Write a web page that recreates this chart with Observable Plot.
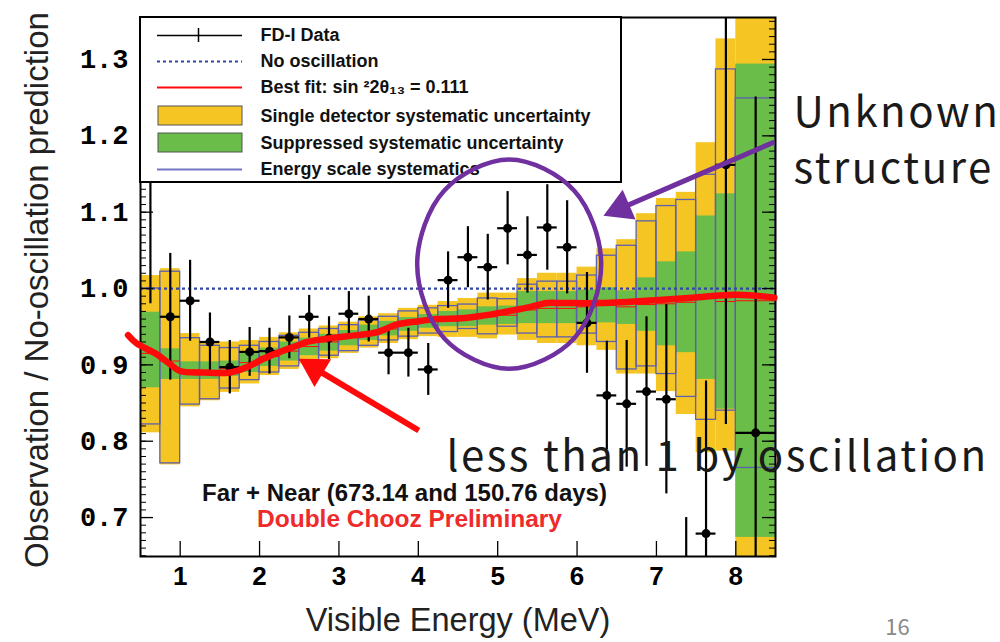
<!DOCTYPE html>
<html><head><meta charset="utf-8">
<script src="https://cdn.jsdelivr.net/npm/d3@7"></script>
<script src="https://cdn.jsdelivr.net/npm/@observablehq/plot@0.6"></script>
<style>
html,body{margin:0;padding:0;background:#fff;}
#chart{width:1000px;height:642px;overflow:hidden;}
</style></head><body><div id="chart"></div>
<script>
// ---------- data ----------
const binEdges = [0.5,0.75,1,1.25,1.5,1.75,2,2.25,2.5,2.75,3,3.25,3.5,3.75,4,4.25,4.5,4.75,5,5.25,5.5,5.75,6,6.25,6.5,6.75,7,7.25,7.5,7.75,8,8.5];
const obsRatio = [1.25,0.963,0.984,0.930,0.897,0.917,0.918,0.936,0.963,0.935,0.967,0.960,0.916,0.916,0.894,1.011,1.041,1.028,1.079,1.044,1.080,1.054,0.955,0.860,0.849,0.865,0.855,0.59,0.679,1.162,0.811];
const obsError = [0.27,0.083,0.053,0.038,0.035,0.032,0.030,0.028,0.028,0.028,0.029,0.030,0.029,0.032,0.034,0.037,0.040,0.043,0.048,0.050,0.056,0.061,0.066,0.071,0.083,0.098,0.124,0.11,0.20,0.34,0.44];
const yellowLow  = [0.811,0.769,0.845,0.853,0.864,0.875,0.886,0.894,0.901,0.908,0.915,0.922,0.928,0.933,0.937,0.936,0.936,0.934,0.939,0.932,0.928,0.928,0.925,0.919,0.888,0.888,0.865,0.835,0.785,0.787,0.40];
const yellowHigh = [1.017,1.026,0.941,0.930,0.930,0.932,0.936,0.942,0.947,0.951,0.956,0.963,0.967,0.974,0.978,0.983,0.987,0.994,0.994,1.013,1.020,1.020,1.028,1.052,1.064,1.098,1.118,1.126,1.191,1.327,1.60];
const greenLow   = [0.870,0.881,0.881,0.881,0.885,0.890,0.898,0.905,0.912,0.918,0.925,0.932,0.938,0.944,0.948,0.950,0.950,0.952,0.953,0.954,0.954,0.954,0.955,0.955,0.953,0.944,0.925,0.916,0.881,0.842,0.674];
const greenHigh  = [0.969,0.921,0.904,0.904,0.905,0.915,0.922,0.930,0.935,0.940,0.945,0.952,0.957,0.962,0.966,0.970,0.972,0.976,0.977,0.996,0.996,0.996,0.998,1.001,0.997,1.014,1.035,1.048,1.095,1.124,1.294];
const blueLow    = [0.822,0.771,0.848,0.855,0.869,0.880,0.890,0.898,0.905,0.912,0.918,0.925,0.932,0.937,0.941,0.943,0.947,0.940,0.950,0.941,0.936,0.936,0.941,0.930,0.894,0.898,0.888,0.858,0.828,0.840,0.765];
const blueHigh   = [1.000,1.022,0.935,0.925,0.922,0.925,0.930,0.938,0.942,0.947,0.952,0.958,0.963,0.970,0.974,0.977,0.979,0.987,0.986,1.005,1.009,1.009,1.017,1.043,1.056,1.088,1.108,1.116,1.149,1.287,1.249];
const bestFit    = [0.915,0.905,0.893,0.892,0.895,0.903,0.911,0.918,0.924,0.930,0.936,0.942,0.947,0.953,0.957,0.959,0.961,0.963,0.965,0.972,0.974,0.974,0.976,0.978,0.976,0.979,0.980,0.982,0.988,0.983,0.984];

// hand-drawn annotation curve (thick red) on the slide
const redCurveX = [0.343,0.452,0.704,0.872,0.997,1.292,1.627,1.838,2.048,2.257,2.467,2.602,2.895,3.232,3.484,3.736,3.987,4.239,4.533,4.785,5.121,5.373,5.625,5.792,6.296,7.030,7.452,8.0,8.486];
const redCurveY = [0.939,0.928,0.914,0.901,0.892,0.890,0.890,0.897,0.908,0.917,0.925,0.930,0.935,0.939,0.943,0.953,0.957,0.960,0.961,0.964,0.970,0.975,0.981,0.981,0.981,0.985,0.988,0.992,0.988];
// annotation ellipse outline points
const ellipseX = [6.304,5.965,5.145,4.325,3.986,4.325,5.145,5.965];
const ellipseY = [1.032,1.128,1.169,1.128,1.032,0.935,0.895,0.935];
// annotation arrows: tail -> head
const arrowRed = {x1:4.006, y1:0.814, x2:2.696, y2:0.8954};
const arrowPurple = {x1:8.486, y1:1.192, x2:6.548, y2:1.105};

const xTickValues = [1,2,3,4,5,6,7,8];
const yTickValues = [0.7,0.8,0.9,1.0,1.1,1.2,1.3];
const legendLabels = ["FD-I Data","No oscillation","Best fit: sin \u00b22\u03b8\u2081\u2083 = 0.111","Single detector systematic uncertainty","Suppressed systematic uncertainty","Energy scale systematics"];
const annotationTexts = ["Unknown","structure","less than 1 by oscillation"];

// ---------- layout ----------
const X0=0.5, X1=8.5, Y0=0.649, Y1=1.355;
const mL=140, mR=225, mT=17, mB=86, W=1000, H=642;
const fW = W-mL-mR, fH = H-mT-mB;
const px2x = px => X0 + (px-mL)*(X1-X0)/fW;
const px2y = py => Y1 - (py-mT)*(Y1-Y0)/fH;

const YELLOW="#f5c524", GREEN="#69bd48", BOX="#5d5fb0", DOT="#3445a8", RED="#ff0a0a", PURPLE="#7030a0";
const ANNOT_FONT = "Noto Sans CJK JP, Noto Sans, sans-serif";

const bins = obsRatio.map((v,i)=>({
  x1: binEdges[i], x2: binEdges[i+1], xc: (binEdges[i]+binEdges[i+1])/2,
  v, e: obsError[i], yl: yellowLow[i], yh: yellowHigh[i], gl: greenLow[i], gh: greenHigh[i],
  bl: blueLow[i], bh: blueHigh[i], fit: bestFit[i]
}));
const redCurve = redCurveX.map((x,i)=>({x, y: redCurveY[i]}));
const ellipse = ellipseX.map((x,i)=>({x, y: ellipseY[i]}));
const yMinor = d3.range(65,136).map(d=>d/100);

const legendRowPx = [35,61,87,116,143,169];
const legendRows = legendLabels.map((t,i)=>({t, py: legendRowPx[i]}));

const plot = Plot.plot({
  width: W, height: H,
  marginLeft: mL, marginRight: mR, marginTop: mT, marginBottom: mB,
  x: {domain: [X0, X1]},
  y: {domain: [Y0, Y1]},
  style: {fontFamily: "Liberation Sans, Arial, sans-serif", background: "white", overflow: "visible"},
  marks: [
    // systematic bands
    Plot.rect(bins, {x1:"x1", x2:"x2", y1:"yl", y2:"yh", fill: YELLOW, clip: true}),
    Plot.rect(bins, {x1:"x1", x2:"x2", y1:"gl", y2:"gh", fill: GREEN, clip: true}),
    Plot.rect(bins, {x1:"x1", x2:"x2", y1:"bl", y2:"bh", fill: "none", stroke: BOX, strokeWidth: 1.3, clip: true}),
    Plot.ruleY(bins, {y:"fit", x1:"x1", x2:"x2", stroke: RED, strokeWidth: 1, clip: true}),
    // no-oscillation line
    Plot.ruleY([1.0], {stroke: DOT, strokeWidth: 2.2, strokeDasharray: "3,3"}),
    // data
    Plot.ruleX(bins, {x:"xc", y1: d=>d.v-d.e, y2: d=>d.v+d.e, stroke:"black", strokeWidth: 2.2, clip: true}),
    Plot.ruleY(bins, {y:"v", x1:"x1", x2:"x2", stroke:"black", strokeWidth: 2.2, clip: true}),
    Plot.dot(bins, {x:"xc", y:"v", r: 4.5, fill:"black", stroke: "none", clip: true}),
    // ticks (inside, ROOT style)
    Plot.tickY(yMinor, {insetRight: fW-6, stroke:"black", strokeWidth: 1}),
    Plot.tickY(yMinor, {insetLeft: fW-6, stroke:"black", strokeWidth: 1}),
    Plot.tickY(yTickValues, {insetRight: fW-13, stroke:"black", strokeWidth: 1.3}),
    Plot.tickY(yTickValues, {insetLeft: fW-13, stroke:"black", strokeWidth: 1.3}),
    Plot.tickX(xTickValues, {insetTop: fH-15, stroke:"black", strokeWidth: 1.3}),
    Plot.frame({stroke:"black", strokeWidth: 2}),
    // axes labels
    Plot.axisY(yTickValues, {tickSize: 0, tickPadding: 12, fontSize: 27, fontFamily: "Liberation Mono, monospace", fontWeight: "bold", tickFormat: d3.format(".1f"), label: null}),
    Plot.axisX(xTickValues, {tickSize: 0, tickPadding: 10, fontSize: 26, fontWeight: "bold", label: null}),
    Plot.text(["Observation / No-oscillation prediction"], {frameAnchor: "left", dx: -103, dy: 3, rotate: -90, textAnchor: "middle", lineAnchor: "middle", fontSize: 33, fill: "#222"}),
    Plot.text(["Visible Energy (MeV)"], {frameAnchor: "bottom", dy: 64, textAnchor: "middle", lineAnchor: "middle", fontSize: 32.5, fill: "#222"}),
    // legend
    Plot.rect([0], {x1: px2x(140), x2: px2x(621), y1: px2y(17), y2: px2y(182), fill: "white", stroke: "black", strokeWidth: 2}),
    Plot.ruleY([0], {y: px2y(35), x1: px2x(157), x2: px2x(242), stroke: "black", strokeWidth: 1.5}),
    Plot.ruleX([0], {x: px2x(198), y1: px2y(28), y2: px2y(42), stroke: "black", strokeWidth: 1.5}),
    Plot.ruleY([0], {y: px2y(61), x1: px2x(157), x2: px2x(242), stroke: DOT, strokeWidth: 2.2, strokeDasharray: "3,3"}),
    Plot.ruleY([0], {y: px2y(87), x1: px2x(157), x2: px2x(242), stroke: RED, strokeWidth: 2}),
    Plot.rect([0], {x1: px2x(158), x2: px2x(242), y1: px2y(125), y2: px2y(106), fill: YELLOW, stroke: "#555", strokeWidth: 1}),
    Plot.rect([0], {x1: px2x(158), x2: px2x(242), y1: px2y(152), y2: px2y(133), fill: GREEN, stroke: "#555", strokeWidth: 1}),
    Plot.ruleY([0], {y: px2y(169), x1: px2x(157), x2: px2x(242), stroke: "#7474c4", strokeWidth: 2}),
    Plot.text(legendRows, {x: () => px2x(260), y: d => px2y(d.py), text: "t", textAnchor: "start", fontSize: 18, fontWeight: "bold", fill: "#111"}),
    // plot captions
    Plot.text(["Far + Near (673.14 and 150.76 days)"], {frameAnchor: "top-left", dx: 264, dy: 476, textAnchor: "middle", lineAnchor: "middle", fontSize: 24, fontWeight: "bold", fill: "#111"}),
    Plot.text(["Double Chooz Preliminary"], {frameAnchor: "top-left", dx: 269, dy: 502, textAnchor: "middle", lineAnchor: "middle", fontSize: 24.5, fontWeight: "bold", fill: "#ee2a2a"}),
    // slide annotations
    Plot.line(redCurve, {x:"x", y:"y", stroke: RED, strokeWidth: 6.5, curve: "catmull-rom"}),
    Plot.link([arrowRed], {x1:"x1", y1:"y1", x2:"x2", y2:"y2", stroke: RED, strokeWidth: 6}),
    Plot.dot([arrowRed], {x:"x2", y:"y2", symbol: "triangle", r: 12, fill: RED, rotate: -59}),
    Plot.line(ellipse, {x:"x", y:"y", stroke: PURPLE, strokeWidth: 4.5, curve: "catmull-rom-closed"}),
    Plot.link([arrowPurple], {x1:"x1", y1:"y1", x2:"x2", y2:"y2", stroke: PURPLE, strokeWidth: 5}),
    Plot.dot([arrowPurple], {x:"x2", y:"y2", symbol: "triangle", r: 12, fill: PURPLE, rotate: -113.5}),
    Plot.text([annotationTexts[0]], {frameAnchor: "top-left", dx: 653, dy: 80, textAnchor: "start", lineAnchor: "top", fontSize: 42, fontFamily: ANNOT_FONT, fill: "#1a1a1a"}),
    Plot.text([annotationTexts[1]], {frameAnchor: "top-left", dx: 653, dy: 136, textAnchor: "start", lineAnchor: "top", fontSize: 42, fontFamily: ANNOT_FONT, fill: "#1a1a1a"}),
    Plot.text([annotationTexts[2]], {frameAnchor: "top-left", dx: 306, dy: 424, textAnchor: "start", lineAnchor: "top", fontSize: 42, fontFamily: ANNOT_FONT, fill: "#1a1a1a"}),
    Plot.text(["16"], {frameAnchor: "top-left", dx: 757, dy: 610, textAnchor: "middle", lineAnchor: "middle", fontSize: 22, fontFamily: ANNOT_FONT, fill: "#8a8a8a"})
  ]
});
d3.select(plot).selectAll("text")
  .filter(function() { return annotationTexts.includes(this.textContent); })
  .style("letter-spacing", "2.5px");
document.getElementById("chart").appendChild(plot);
</script>
</body></html>
